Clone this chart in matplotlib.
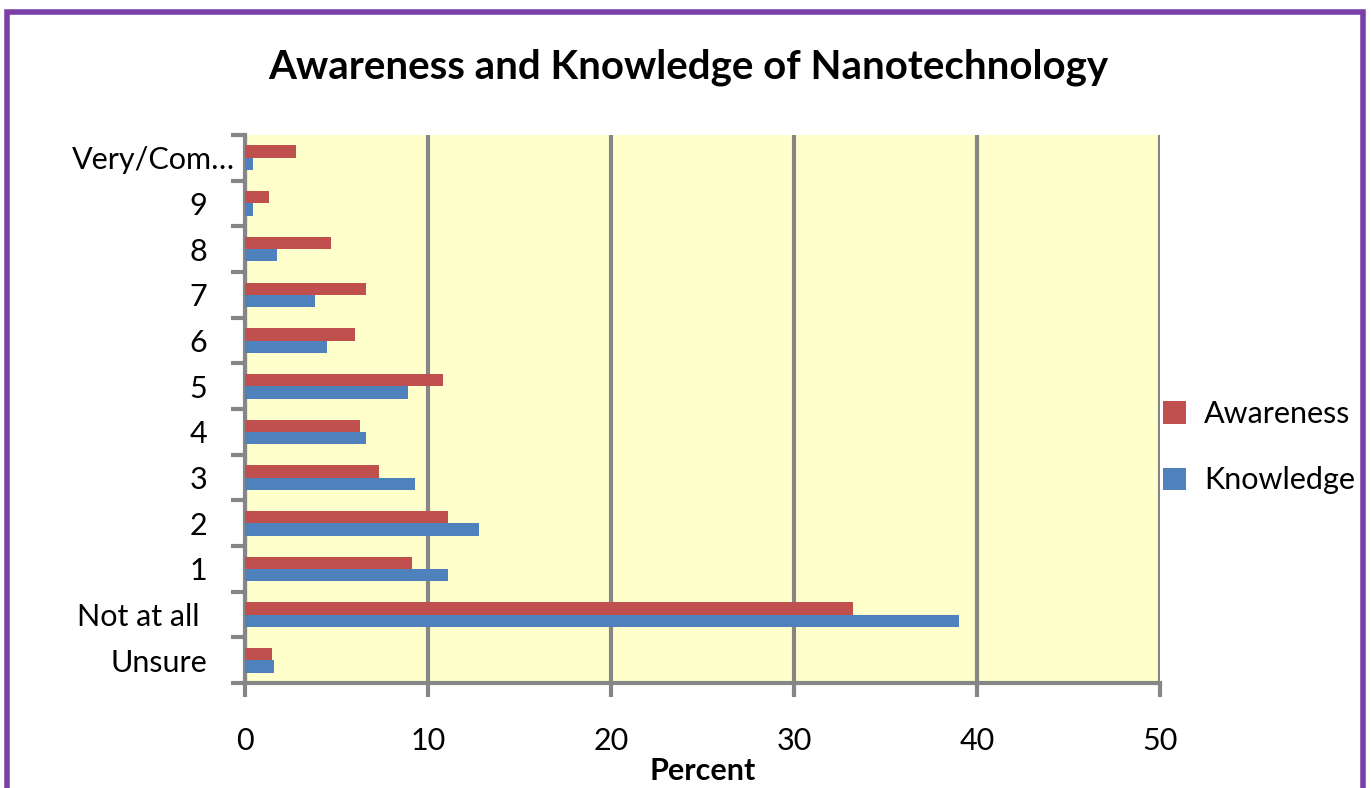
import matplotlib.pyplot as plt
import matplotlib.transforms as mtransforms
from matplotlib.patches import Rectangle
import numpy as np

plt.rcParams['font.family'] = ['Lato', 'DejaVu Sans']

categories = ['Unsure', 'Not at all ', '1', '2', '3', '4', '5', '6', '7', '8', '9', 'Very/Com…']
awareness = [1.5, 33.2, 9.1, 11.1, 7.3, 6.3, 10.8, 6.0, 6.6, 4.7, 1.3, 2.8]
knowledge = [1.6, 39.0, 11.1, 12.8, 9.3, 6.6, 8.9, 4.5, 3.8, 1.75, 0.45, 0.45]
xticks = [0, 10, 20, 30, 40, 50]

red = '#C0504D'
blue = '#4F81BD'
grey = '#868686'

fig = plt.figure(figsize=(13.71, 7.88), dpi=100)
ax = fig.add_axes([0.1787, 0.1332, 0.6674, 0.6955])
ax.set_facecolor('#FFFFCC')

y = np.arange(len(categories))
h = 0.27
ax.barh(y + h/2, awareness, height=h, color=red, label='Awareness', zorder=3)
ax.barh(y - h/2, knowledge, height=h, color=blue, label='Knowledge', zorder=3)

ax.set_xlim(0, 50)
ax.set_ylim(-0.5, len(categories) - 0.5)
ax.set_xticks(xticks)
ax.set_xticklabels([str(v) for v in xticks], fontsize=22)
ax.tick_params(axis='x', length=10, width=3, color=grey, pad=22)
ax.xaxis.grid(True, color=grey, linewidth=3, zorder=1)

ax.set_yticks(y)
ax.set_yticklabels(categories, fontsize=22)
ax.set_yticks(np.arange(-0.5, len(categories)), minor=True)
ax.tick_params(axis='y', which='major', length=0, pad=27)
ax.tick_params(axis='y', which='minor', length=10, width=3, color=grey)

for s in ['top', 'right']:
    ax.spines[s].set_visible(False)
for s in ['left', 'bottom']:
    ax.spines[s].set_color(grey)
    ax.spines[s].set_linewidth(3)

# the long label sits further right in the reference
lab = ax.get_yticklabels()[-1]
lab.set_transform(lab.get_transform() + mtransforms.ScaledTranslation(27/100, 0, fig.dpi_scale_trans))

ax.set_xlabel('Percent', fontsize=22, fontweight='bold', labelpad=1)
fig.text(0.502, 0.915, 'Awareness and Knowledge of Nanotechnology', ha='center', va='center',
         fontsize=29, fontweight='bold')

leg = ax.legend(loc='center left', bbox_to_anchor=(0.99, 0.43), frameon=False, fontsize=22,
                handlelength=0.75, handleheight=0.75, handletextpad=0.6, labelspacing=1.25,
                borderaxespad=0.0)

fig.patches.append(Rectangle((0.005, -0.05), 0.989, 1.035, transform=fig.transFigure,
                             fill=False, edgecolor='#7B3FA8', linewidth=4))

fig.savefig('out.png', dpi=100)
